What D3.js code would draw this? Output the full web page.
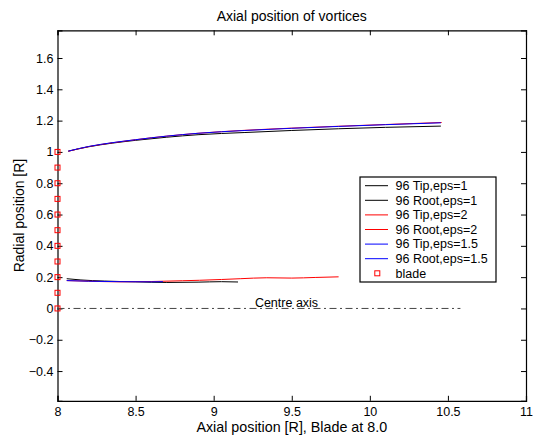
<!DOCTYPE html>
<html>
<head>
<meta charset="utf-8">
<script src="https://cdn.jsdelivr.net/npm/d3@7"></script>
<style>
  html, body { margin: 0; padding: 0; background: #fff; }
  svg { display: block; font-family: "Liberation Sans", Arial, sans-serif; }
</style>
</head>
<body>
<svg id="chart" width="533" height="437"></svg>
<script>
// Tip vortex traces (axial x, radial y)
const tipX_eps1   = [8.069, 8.2, 8.35, 8.5, 8.7, 8.9, 9.2, 9.5, 9.8, 10.1, 10.455];
const tipY_eps1   = [1.005, 1.033, 1.056, 1.074, 1.094, 1.110, 1.124, 1.137, 1.148, 1.157, 1.165];
const tipX_eps2   = [8.069, 8.2, 8.35, 8.5, 8.7, 8.9, 9.2, 9.5, 9.8, 10.1, 10.46];
const tipY_eps2   = [1.004, 1.034, 1.058, 1.078, 1.101, 1.119, 1.138, 1.152, 1.164, 1.175, 1.188];
const tipX_eps15  = [8.069, 8.2, 8.35, 8.5, 8.7, 8.9, 9.2, 9.5, 9.8, 10.1, 10.455];
const tipY_eps15  = [1.005, 1.035, 1.059, 1.078, 1.101, 1.119, 1.137, 1.151, 1.163, 1.174, 1.186];

// Root vortex traces
const rootX_eps1  = [8.059, 8.15, 8.3, 8.5, 8.7, 8.9, 9.05, 9.156];
const rootY_eps1  = [0.190, 0.182, 0.175, 0.170, 0.166, 0.168, 0.171, 0.169];
const rootX_eps2  = [8.059, 8.2, 8.4, 8.6, 8.8, 8.91, 9.05, 9.17, 9.34, 9.5, 9.65, 9.80];
const rootY_eps2  = [0.178, 0.174, 0.170, 0.172, 0.177, 0.180, 0.185, 0.190, 0.196, 0.194, 0.198, 0.202];
const rootX_eps15 = [8.059, 8.2, 8.4, 8.6, 8.675];
const rootY_eps15 = [0.178, 0.174, 0.171, 0.170, 0.171];

// Blade stations
const bladeX = [8, 8, 8, 8, 8, 8, 8, 8, 8, 8, 8];
const bladeY = [0, 0.1, 0.2, 0.3, 0.4, 0.5, 0.6, 0.7, 0.8, 0.9, 1.0];

// Centre axis line
const centreX = [8.0, 10.58];
const centreY = [0, 0];

const xTicks = [8, 8.5, 9, 9.5, 10, 10.5, 11];
const yTicks = [-0.4, -0.2, 0, 0.2, 0.4, 0.6, 0.8, 1.0, 1.2, 1.4, 1.6];

const seriesNames = ["96 Tip,eps=1", "96 Root,eps=1", "96 Tip,eps=2", "96 Root,eps=2",
                     "96 Tip,eps=1.5", "96 Root,eps=1.5"];
const seriesColors = ["#000000", "#000000", "#ff0000", "#ff0000", "#0000ff", "#0000ff"];

const seriesX = [tipX_eps1, rootX_eps1, tipX_eps2, rootX_eps2, tipX_eps15, rootX_eps15];
const seriesY = [tipY_eps1, rootY_eps1, tipY_eps2, rootY_eps2, tipY_eps15, rootY_eps15];

const svg = d3.select("#chart");
const L = 57.5, R = 526, T = 30.3, B = 400.8;

const x = d3.scaleLinear().domain([8, 11]).range([L, R]);
const y = d3.scaleLinear().domain([-0.59, 1.777]).range([B, T]);

const fmt = d => (d === 0 ? "0" : d3.format("")(+d.toFixed(1))).replace("-", "\u2212");

// axes with inward ticks on all four sides
svg.append("g").attr("transform", `translate(0,${B})`)
  .call(d3.axisBottom(x).tickValues(xTicks).tickSize(-5).tickPadding(6).tickFormat(d3.format("")));
svg.append("g").attr("transform", `translate(0,${T})`)
  .call(d3.axisTop(x).tickValues(xTicks).tickSize(-5).tickFormat(""));
svg.append("g").attr("transform", `translate(${L},0)`)
  .call(d3.axisLeft(y).tickValues(yTicks).tickSize(-5).tickPadding(4).tickFormat(fmt));
svg.append("g").attr("transform", `translate(${R},0)`)
  .call(d3.axisRight(y).tickValues(yTicks).tickSize(-5).tickFormat(""));

svg.selectAll(".domain").attr("stroke", "#000").attr("stroke-width", 1.2);
svg.selectAll(".tick line").attr("stroke", "#000");
svg.selectAll(".tick text").attr("font-size", 12.5).attr("fill", "#000")
  .attr("font-family", "Liberation Sans, Arial, sans-serif");

// vortex traces
const line = d3.line().x(d => x(d[0])).y(d => y(d[1])).curve(d3.curveMonotoneX);
seriesX.forEach((xs, i) => {
  svg.append("path")
    .datum(xs.map((v, j) => [v, seriesY[i][j]]))
    .attr("d", line)
    .attr("fill", "none")
    .attr("stroke", seriesColors[i])
    .attr("stroke-width", 1);
});

// centre axis
svg.append("path")
  .datum(centreX.map((v, j) => [v, centreY[j]]))
  .attr("d", d3.line().x(d => x(d[0])).y(d => y(d[1])))
  .attr("stroke", "#444").attr("stroke-width", 1)
  .attr("stroke-dasharray", "7,3.5,2,3.5");

svg.append("text").attr("x", x(9.264)).attr("y", y(0) - 1.5)
  .attr("font-size", 12.5).text("Centre axis");

// blade markers
svg.append("g").selectAll("rect").data(bladeX.map((v, j) => [v, bladeY[j]]))
  .join("rect")
  .attr("x", d => x(d[0]) - 2.5).attr("y", d => y(d[1]) - 2.5)
  .attr("width", 5).attr("height", 5)
  .attr("fill", "none").attr("stroke", "#ff0000").attr("stroke-width", 1);

// titles
svg.append("text").attr("x", (L + R) / 2).attr("y", 20.5).attr("text-anchor", "middle")
  .attr("font-size", 14).text("Axial position of vortices");
svg.append("text").attr("x", (L + R) / 2).attr("y", 432).attr("text-anchor", "middle")
  .attr("font-size", 14.3).text("Axial position [R], Blade at 8.0");
svg.append("text").attr("transform", `translate(24,${(T + B) / 2}) rotate(-90)`)
  .attr("text-anchor", "middle").attr("font-size", 14).text("Radial position [R]");

// legend
const lg = svg.append("g");
const lx = 360, ly = 177, lw = 136, lh = 105, row = 14.6;
lg.append("rect").attr("x", lx).attr("y", ly).attr("width", lw).attr("height", lh)
  .attr("fill", "#fff").attr("stroke", "#000").attr("stroke-width", 1.2);
seriesNames.forEach((name, i) => {
  const cy = ly + 8.7 + i * row;
  lg.append("line").attr("x1", lx + 5).attr("x2", lx + 28).attr("y1", cy).attr("y2", cy)
    .attr("stroke", seriesColors[i]).attr("stroke-width", 1);
  lg.append("text").attr("x", lx + 35.5).attr("y", cy + 4.3).attr("font-size", 12.5).text(name);
});
const by = ly + 8.7 + 6 * row;
lg.append("rect").attr("x", lx + 17.3 - 2.5).attr("y", by - 2.5).attr("width", 5).attr("height", 5)
  .attr("fill", "none").attr("stroke", "#ff0000").attr("stroke-width", 1);
lg.append("text").attr("x", lx + 35.5).attr("y", by + 4.3).attr("font-size", 12.5).text("blade");
</script>
</body>
</html>
